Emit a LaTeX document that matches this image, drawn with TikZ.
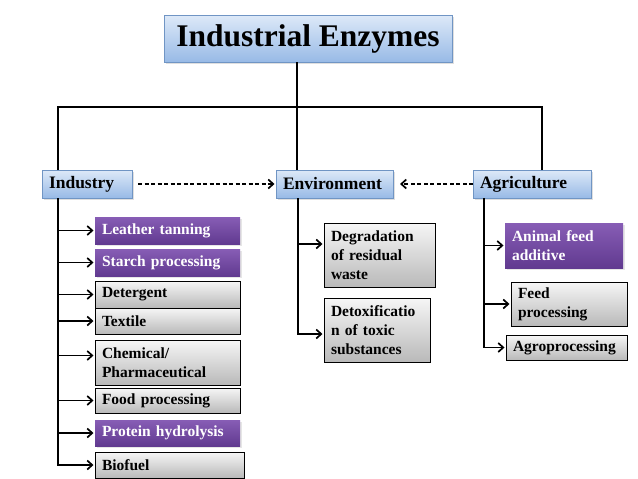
\documentclass[tikz,border=0pt]{standalone}
\usepackage{fontspec}
\setmainfont{Liberation Serif}
\usetikzlibrary{arrows.meta, positioning, shadows}

\definecolor{headtop}{HTML}{DDE9F8}
\definecolor{headbot}{HTML}{98BAE6}
\definecolor{headline}{HTML}{7095C4}
\definecolor{purptop}{HTML}{875DB5}
\definecolor{purpbot}{HTML}{613A90}
\definecolor{graytop}{HTML}{F6F6F6}
\definecolor{graybot}{HTML}{B9B9B9}

\begin{document}
\begin{tikzpicture}[x=1pt, y=-1pt, >={Straight Barb[length=5pt,width=9pt]}, line width=1.7pt]
    \tikzstyle{head} = [draw=headline, line width=0.8pt, outer sep=0pt, top color=headtop, bottom color=headbot,
        font=\fontsize{17.5}{21}\selectfont\bfseries, align=left, inner xsep=7pt,
        minimum height=28pt, anchor=west, drop shadow={opacity=0.25, shadow xshift=1.5pt, shadow yshift=-1.5pt}]
    \tikzstyle{pbox} = [top color=purptop, bottom color=purpbot, text=white, outer sep=0pt,
        font=\fontsize{15.5}{19}\selectfont\bfseries, align=left, inner xsep=7pt, inner ysep=3pt,
        minimum height=26pt, anchor=north west, drop shadow={opacity=0.2, shadow xshift=1.5pt, shadow yshift=-1.5pt}]
    \tikzstyle{gbox} = [draw=black, line width=0.8pt, outer sep=0pt, top color=graytop, bottom color=graybot,
        font=\fontsize{15.5}{19}\selectfont\bfseries, align=left, inner xsep=7pt, inner ysep=3pt,
        minimum height=26pt, anchor=north west]
    \tikzstyle{link} = [->, shorten >=1.5pt]

    \useasboundingbox (0,0) rectangle (638,479);

    % Define nodes
    \node[head, anchor=center, minimum width=288pt, minimum height=47pt,
        font=\fontsize{31.5}{36}\selectfont\bfseries] (title) at (308,38.5) {Industrial Enzymes};
    \node[head, text width=76pt] (industry) at (42,184) {Industry};
    \node[head, text width=103pt] (environment) at (276,184) {Environment};
    \node[head, text width=104pt] (agriculture) at (473,184) {Agriculture};

    \node[pbox, text width=131pt, minimum height=27pt] (leather) at (95,217) {Leather tanning};
    \node[pbox, text width=131pt, minimum height=27pt] (starch) [below=5pt of leather] {Starch processing};
    \node[gbox, text width=131pt, minimum height=27pt] (detergent) [below=5pt of starch] {Detergent};
    \node[gbox, text width=131pt] (textile) [below=0pt of detergent] {Textile};
    \node[gbox, text width=131pt, minimum height=45pt] (chem) [below=6pt of textile] {Chemical/\\Pharmaceutical};
    \node[gbox, text width=131pt, minimum height=25pt] (food) [below=3pt of chem] {Food processing};
    \node[pbox, text width=131pt] (protein) [below=7pt of food] {Protein hydrolysis};
    \node[gbox, text width=135pt] (biofuel) [below right=6pt and 0pt of protein.south west] {Biofuel};

    \node[gbox, text width=97pt, minimum height=64pt] (degr) [below right=25pt and 48pt of environment.south west] {Degradation\\of residual\\waste};
    \node[gbox, text width=92pt, minimum height=64pt] (detox) [below right=11pt and 0pt of degr.south west] {Detoxificatio\\n of toxic\\substances};

    \node[pbox, text width=104pt, minimum height=45pt] (animal) [below right=25pt and 32pt of agriculture.south west] {Animal feed\\additive};
    \node[gbox, text width=102pt, minimum height=44pt] (feed) [below right=14pt and 6pt of animal.south west] {Feed\\processing};
    \node[gbox, text width=107pt, minimum height=25pt] (agro) [below right=9pt and -5pt of feed.south west] {Agroprocessing};

    % Draw tree
    \coordinate (hub) at (297,107);
    \coordinate (itrunk) at ([xshift=16pt]industry.south west);
    \coordinate (etrunk) at ([xshift=22pt]environment.south west);
    \coordinate (atrunk) at ([xshift=11pt]agriculture.south west);
    \draw (hub |- title.south) -- (hub |- environment.north);
    \draw (itrunk |- industry.north) |- (hub) -| ([xshift=69pt]agriculture.north west);

    % Draw branches
    \draw[link] (itrunk) |- (biofuel.west);
    \foreach \b in {leather, starch, detergent, textile, food, protein}
        \draw[link] (itrunk |- \b.west) -- (\b.west);
    \coordinate (chemin) at ([yshift=7pt]chem.west);
    \draw[link] (itrunk |- chemin) -- (chemin);

    \coordinate (degrin) at ([yshift=11pt]degr.west);
    \coordinate (detoxin) at ([yshift=-4pt]detox.west);
    \draw[link] (etrunk) |- (detoxin);
    \draw[link] (etrunk |- degrin) -- (degrin);

    \draw[link] (atrunk) |- (agro.west);
    \foreach \b in {animal, feed}
        \draw[link] (atrunk |- \b.west) -- (\b.west);

    % Draw dashed edges
    \draw[link, dash pattern=on 4pt off 2.5pt, shorten <=6pt] (industry) -- (environment);
    \draw[link, dash pattern=on 4pt off 2.5pt, shorten >=7pt] (agriculture) -- (environment);
\end{tikzpicture}
\end{document}
